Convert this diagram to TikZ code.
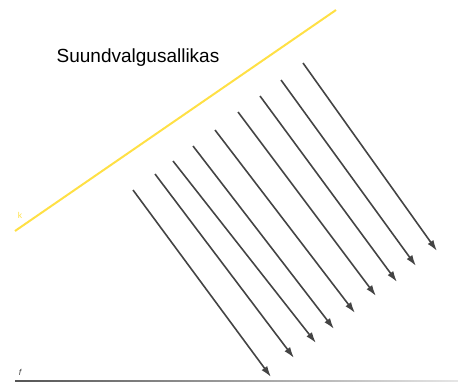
\documentclass[tikz,border=0pt]{standalone}
\usepackage{fontspec}
\setmainfont{Liberation Sans}
\usepackage{tikz}
\usetikzlibrary{arrows.meta}
\definecolor{lray}{HTML}{444444}
\definecolor{lsrc}{HTML}{FFE045}
\definecolor{lfloor}{HTML}{555555}
\definecolor{lfloorend}{HTML}{E6E6E6}

\begin{document}
\begin{tikzpicture}[x=1pt,y=-1pt,
  ray/.style={lray,line width=1.6pt,-{Latex[length=11pt,width=7pt]}},
  every node/.style={inner sep=0pt}]
  \useasboundingbox (0,0) rectangle (458,383);

  % light source
  \coordinate (srcA) at (15,231);
  \coordinate (srcB) at (336,10);
  \draw[lsrc,line width=2pt] (srcA) -- (srcB);
  \node[text=lsrc,font=\fontsize{8.5}{9}\selectfont] (klabel) at (20,215) {k};
  \node[font=\fontsize{19}{22}\selectfont] (title) at (138,58) {Suundvalgusallikas};

  % floor
  \shade[left color=lfloor,right color=lfloorend] (15,380.2) rectangle (458,381.8);
  \node[text=lray,font=\fontsize{8.5}{9}\itshape] (flabel) at (20,372) {f};

  % parallel rays
  \foreach \i/\sx/\sy/\ex/\ey in {1/133/190/271/377, 2/155/174/294/358,
      3/173/161/316/343, 4/193/146/334/329, 5/215/130/355/313,
      6/238/112/376/296, 7/260/96/397/282, 8/281/80/416/266, 9/303/63/437/251}{
    \coordinate (s\i) at (\sx,\sy);
    \coordinate (e\i) at (\ex,\ey);
    \draw[ray] (s\i) -- (e\i);
  }
\end{tikzpicture}
\end{document}
